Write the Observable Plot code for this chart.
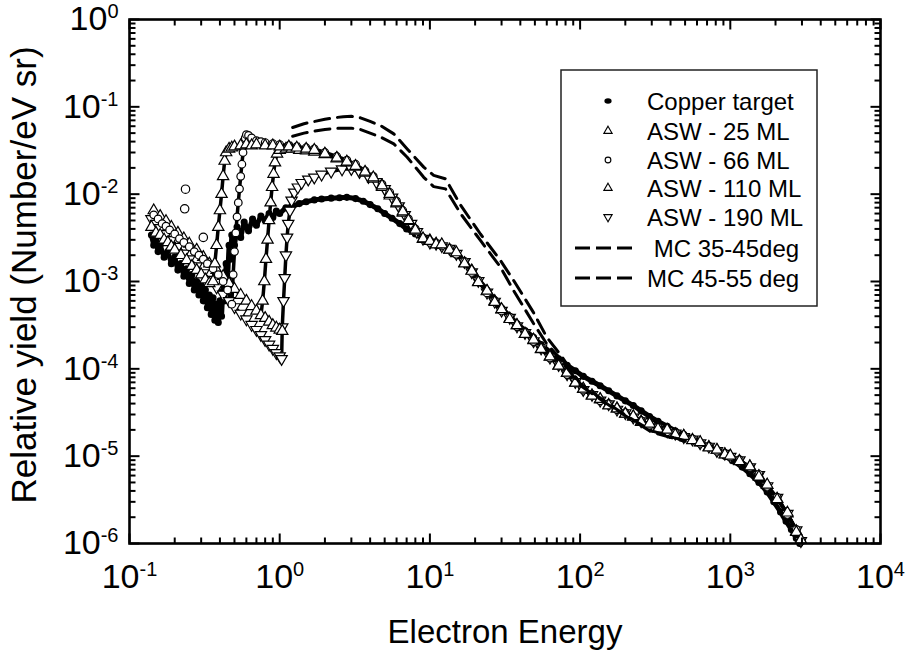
<!DOCTYPE html>
<html><head><meta charset="utf-8">
<script src="https://cdn.jsdelivr.net/npm/d3@7"></script>
<script src="https://cdn.jsdelivr.net/npm/@observablehq/plot@0.6"></script>
<style>
html,body{margin:0;padding:0;background:#fff;}
#chart{position:relative;width:908px;height:660px;overflow:hidden;}
</style></head>
<body><div id="chart"></div>
<script>
// ---------- axis ticks ----------
const xMajor = [0.1, 1, 10, 100, 1000, 10000];
const yMajor = [1e-6, 1e-5, 1e-4, 1e-3, 1e-2, 1e-1, 1];
const minorSteps = [2, 3, 4, 5, 6, 7, 8, 9];
const xTickLabels = ["10^-1", "10^0", "10^1", "10^2", "10^3", "10^4"];
const yTickLabels = ["10^-6", "10^-5", "10^-4", "10^-3", "10^-2", "10^-1", "10^0"];

// ---------- legend ----------
const legendLabels = ["Copper target", "ASW - 25 ML", "ASW - 66 ML", "ASW - 110 ML", "ASW - 190 ML", " MC 35-45deg", "MC 45-55 deg"];

// ---------- shared high-energy grid for ASW series ----------
const bandE = [10, 11, 12, 13.5, 15, 17, 19, 21, 24, 27, 30, 34, 38, 43, 49, 55, 63, 72, 82, 93, 105, 120, 136, 155, 176, 200, 226, 255, 290, 330, 380, 430, 490, 560, 630, 720, 815, 920, 1000, 1150, 1350, 1550, 1760, 2050, 2400, 2750, 2950];

// ---------- Copper target ----------
const cuLowE = [0.14, 0.145, 0.15, 0.155, 0.16, 0.17, 0.18, 0.19, 0.2, 0.21, 0.22, 0.23, 0.24, 0.25, 0.26, 0.27, 0.28, 0.29, 0.30, 0.31, 0.32, 0.33, 0.34, 0.35, 0.36, 0.37, 0.38, 0.39, 0.40, 0.41, 0.42, 0.43, 0.44, 0.45, 0.46, 0.47, 0.48, 0.5, 0.52, 0.55, 0.58, 0.62, 0.66, 0.7, 0.75, 0.8, 0.85, 0.9, 0.95, 1.0, 1.1, 1.2, 1.35, 1.5, 1.7, 1.9, 2.2, 2.5, 2.8, 3.2, 3.6, 4.0, 4.5, 5.0, 5.6, 6.3, 7.0, 8.0, 9.0];
const cuLowY = [3.4e-3, 2.6e-3, 3.0e-3, 2.2e-3, 2.6e-3, 1.9e-3, 2.2e-3, 1.6e-3, 1.9e-3, 1.35e-3, 1.6e-3, 1.15e-3, 1.4e-3, 9.5e-4, 1.2e-3, 8e-4, 1.0e-3, 7e-4, 9e-4, 6e-4, 8e-4, 5e-4, 7e-4, 4.2e-4, 6.5e-4, 3.6e-4, 5.5e-4, 3.4e-4, 6e-4, 4e-4, 9e-4, 6e-4, 1.6e-3, 1.1e-3, 2.6e-3, 1.8e-3, 3.4e-3, 2.6e-3, 4.2e-3, 3.2e-3, 4.8e-3, 3.8e-3, 5.2e-3, 4.4e-3, 5.6e-3, 5.0e-3, 6.0e-3, 5.4e-3, 6.4e-3, 6.0e-3, 7.0e-3, 7.2e-3, 7.8e-3, 8.2e-3, 8.6e-3, 8.8e-3, 9.0e-3, 9.1e-3, 9.2e-3, 8.9e-3, 8.3e-3, 7.6e-3, 6.8e-3, 6.0e-3, 5.3e-3, 4.6e-3, 4.0e-3, 3.5e-3, 3.2e-3];
const cuHighE = [10, 11, 12, 13.5, 15, 17, 19, 21, 24, 27, 30, 34, 38, 43, 49, 55, 63, 72, 82, 93, 105, 120, 136, 155, 176, 200, 226, 255, 290, 330, 380, 430, 490, 560, 630, 720, 815, 920, 1050, 1200, 1350, 1550, 1760, 1950, 2160, 2350, 2550, 2750, 2900];
const cuHighY = [2.9e-3, 2.75e-3, 2.6e-3, 2.4e-3, 2.1e-3, 1.7e-3, 1.35e-3, 1.05e-3, 8e-4, 6.2e-4, 5e-4, 4e-4, 3.3e-4, 2.75e-4, 2.3e-4, 1.9e-4, 1.55e-4, 1.3e-4, 1.1e-4, 9.5e-5, 8.2e-5, 7.2e-5, 6.4e-5, 5.6e-5, 4.9e-5, 4.3e-5, 3.8e-5, 3.3e-5, 2.85e-5, 2.5e-5, 2.2e-5, 1.95e-5, 1.78e-5, 1.6e-5, 1.45e-5, 1.28e-5, 1.14e-5, 1.0e-5, 8.8e-6, 7.5e-6, 6.3e-6, 5.0e-6, 3.9e-6, 3.0e-6, 2.3e-6, 1.8e-6, 1.45e-6, 1.15e-6, 1.0e-6];

// ---------- ASW 25 ML ----------
const asw25LowE = [0.14, 0.15, 0.16, 0.17, 0.18, 0.19, 0.2, 0.22, 0.24, 0.26, 0.28, 0.3, 0.32, 0.34, 0.36, 0.37, 0.38, 0.39, 0.4, 0.41, 0.42, 0.43, 0.44, 0.46, 0.48, 0.5, 0.55, 0.6, 0.65, 0.7, 0.8, 0.9, 1.0, 1.15, 1.3, 1.5, 1.7, 2.0, 2.4, 2.8, 3.2, 3.7, 4.2, 4.8, 5.4, 6.0, 6.6, 7.2, 8.0, 9.0];
const asw25LowY = [4.2e-3, 3.6e-3, 3.4e-3, 3.0e-3, 2.8e-3, 2.5e-3, 2.3e-3, 2.0e-3, 1.75e-3, 1.5e-3, 1.35e-3, 1.2e-3, 1.05e-3, 9.5e-4, 1.0e-3, 1.6e-3, 2.6e-3, 4.2e-3, 6.5e-3, 1.0e-2, 1.6e-2, 2.4e-2, 3.0e-2, 3.3e-2, 3.4e-2, 3.5e-2, 3.6e-2, 3.7e-2, 3.6e-2, 3.7e-2, 3.6e-2, 3.6e-2, 3.5e-2, 3.5e-2, 3.4e-2, 3.3e-2, 3.2e-2, 2.9e-2, 2.6e-2, 2.35e-2, 2.1e-2, 1.8e-2, 1.55e-2, 1.25e-2, 1.0e-2, 8.0e-3, 6.3e-3, 5.0e-3, 3.9e-3, 3.1e-3];
const asw25HighY = [2.9e-3, 2.65e-3, 2.65e-3, 2.3e-3, 2.15e-3, 1.6e-3, 1.32e-3, 9.8e-4, 7.8e-4, 5.8e-4, 4.8e-4, 3.7e-4, 3.15e-4, 2.5e-4, 2.15e-4, 1.68e-4, 1.38e-4, 1.08e-4, 9.0e-5, 6.9e-5, 5.9e-5, 4.9e-5, 4.5e-5, 3.8e-5, 3.5e-5, 3.05e-5, 2.85e-5, 2.45e-5, 2.35e-5, 2.05e-5, 2.0e-5, 1.75e-5, 1.7e-5, 1.52e-5, 1.44e-5, 1.25e-5, 1.18e-5, 1.04e-5, 1.01e-5, 8.7e-6, 7.6e-6, 5.8e-6, 4.7e-6, 3.2e-6, 2.25e-6, 1.35e-6, 1.1e-6];

// ---------- ASW 66 ML ----------
const asw66LowE = [0.145, 0.155, 0.165, 0.175, 0.185, 0.2, 0.215, 0.23, 0.25, 0.27, 0.29, 0.31, 0.33, 0.36, 0.39, 0.42, 0.45, 0.48, 0.49, 0.5, 0.51, 0.52, 0.53, 0.54, 0.55, 0.56, 0.57, 0.58, 0.59, 0.6, 0.62, 0.65, 0.7, 0.75, 0.8, 0.9, 1.0, 1.15, 1.3, 1.5, 1.7, 2.0, 2.4, 2.8, 3.2, 3.7, 4.2, 4.8, 5.4, 6.0, 6.6, 7.2, 8.0, 9.0];
const asw66LowY = [5.8e-3, 5.2e-3, 4.6e-3, 4.3e-3, 3.9e-3, 3.5e-3, 3.1e-3, 2.8e-3, 2.5e-3, 2.2e-3, 2.0e-3, 1.8e-3, 1.6e-3, 1.4e-3, 1.2e-3, 1.0e-3, 8e-4, 5.5e-4, 1.2e-3, 2.2e-3, 3.6e-3, 5.5e-3, 8e-3, 1.15e-2, 1.6e-2, 2.2e-2, 3.0e-2, 3.8e-2, 4.4e-2, 4.8e-2, 4.7e-2, 4.4e-2, 4.1e-2, 4.0e-2, 3.9e-2, 3.8e-2, 3.7e-2, 3.6e-2, 3.5e-2, 3.4e-2, 3.3e-2, 3.0e-2, 2.7e-2, 2.45e-2, 2.2e-2, 1.85e-2, 1.6e-2, 1.3e-2, 1.05e-2, 8.3e-3, 6.5e-3, 5.2e-3, 4.0e-3, 3.15e-3];
const asw66HighY = [2.8e-3, 2.75e-3, 2.55e-3, 2.4e-3, 2.05e-3, 1.7e-3, 1.27e-3, 1.03e-3, 7.4e-4, 6.0e-4, 4.6e-4, 3.9e-4, 3.05e-4, 2.6e-4, 2.05e-4, 1.73e-4, 1.33e-4, 1.12e-4, 8.6e-5, 7.2e-5, 5.7e-5, 5.1e-5, 4.3e-5, 4.0e-5, 3.4e-5, 3.15e-5, 2.75e-5, 2.55e-5, 2.25e-5, 2.15e-5, 1.9e-5, 1.85e-5, 1.65e-5, 1.58e-5, 1.4e-5, 1.3e-5, 1.14e-5, 1.08e-5, 9.8e-6, 9.1e-6, 7.4e-6, 6.2e-6, 4.5e-6, 3.4e-6, 2.15e-6, 1.45e-6, 1.06e-6];
const asw66OutlierE = [0.233, 0.236, 0.31];
const asw66OutlierY = [6.8e-3, 1.14e-2, 3.2e-3];

// ---------- ASW 110 ML ----------
const asw110LowE = [0.145, 0.16, 0.175, 0.19, 0.21, 0.23, 0.25, 0.28, 0.31, 0.34, 0.38, 0.42, 0.46, 0.5, 0.55, 0.6, 0.65, 0.7, 0.75, 0.77, 0.79, 0.81, 0.83, 0.85, 0.87, 0.89, 0.91, 0.93, 0.96, 1.0, 1.1, 1.2, 1.35, 1.5, 1.7, 2.0, 2.4, 2.8, 3.2, 3.7, 4.2, 4.8, 5.4, 6.0, 6.6, 7.2, 8.0, 9.0];
const asw110LowY = [6.5e-3, 5.6e-3, 4.9e-3, 4.2e-3, 3.6e-3, 3.1e-3, 2.7e-3, 2.3e-3, 1.9e-3, 1.6e-3, 1.35e-3, 1.15e-3, 9.5e-4, 8.2e-4, 7e-4, 6e-4, 5.2e-4, 4.6e-4, 4.1e-4, 6e-4, 1.0e-3, 1.8e-3, 3.0e-3, 5.0e-3, 8e-3, 1.2e-2, 1.7e-2, 2.3e-2, 2.9e-2, 3.2e-2, 3.3e-2, 3.3e-2, 3.2e-2, 3.15e-2, 3.05e-2, 2.85e-2, 2.55e-2, 2.3e-2, 2.05e-2, 1.75e-2, 1.5e-2, 1.2e-2, 9.6e-3, 7.8e-3, 6.1e-3, 4.9e-3, 3.8e-3, 3.05e-3];
const asw110HighY = [2.95e-3, 2.7e-3, 2.6e-3, 2.3e-3, 2.1e-3, 1.62e-3, 1.33e-3, 9.9e-4, 7.7e-4, 5.95e-4, 4.75e-4, 3.75e-4, 3.15e-4, 2.5e-4, 2.12e-4, 1.67e-4, 1.37e-4, 1.09e-4, 8.9e-5, 6.9e-5, 5.85e-5, 4.95e-5, 4.45e-5, 3.85e-5, 3.5e-5, 3.05e-5, 2.82e-5, 2.48e-5, 2.32e-5, 2.08e-5, 1.97e-5, 1.78e-5, 1.7e-5, 1.53e-5, 1.43e-5, 1.27e-5, 1.17e-5, 1.05e-5, 1.0e-5, 8.8e-6, 7.6e-6, 5.9e-6, 4.65e-6, 3.25e-6, 2.2e-6, 1.38e-6, 1.09e-6];
const asw110TailE = [0.8, 0.85, 0.9, 0.95, 1.0, 1.04];
const asw110TailY = [3.8e-4, 3.45e-4, 3.15e-4, 2.95e-4, 2.8e-4, 2.7e-4];

// ---------- ASW 190 ML ----------
const asw190LowE = [0.14, 0.15, 0.16, 0.175, 0.19, 0.21, 0.23, 0.25, 0.28, 0.31, 0.34, 0.38, 0.42, 0.46, 0.5, 0.55, 0.6, 0.65, 0.7, 0.75, 0.8, 0.85, 0.9, 0.95, 1.0, 1.03, 1.04, 1.06, 1.08, 1.1, 1.12, 1.14, 1.17, 1.2, 1.25, 1.32, 1.4, 1.55, 1.7, 1.9, 2.2, 2.6, 3.0, 3.4, 3.9, 4.4, 5.0, 5.6, 6.2, 6.8, 7.5, 8.2, 9.0];
const asw190LowY = [5.2e-3, 4.6e-3, 4.1e-3, 3.5e-3, 3.0e-3, 2.5e-3, 2.1e-3, 1.8e-3, 1.5e-3, 1.25e-3, 1.05e-3, 8.6e-4, 7.1e-4, 6.0e-4, 5.1e-4, 4.3e-4, 3.7e-4, 3.2e-4, 2.8e-4, 2.45e-4, 2.15e-4, 1.9e-4, 1.7e-4, 1.52e-4, 1.4e-4, 1.3e-4, 3.0e-4, 6e-4, 1.1e-3, 2.0e-3, 3.2e-3, 4.6e-3, 6.5e-3, 8.5e-3, 1.05e-2, 1.2e-2, 1.35e-2, 1.48e-2, 1.56e-2, 1.68e-2, 1.82e-2, 1.93e-2, 1.95e-2, 1.8e-2, 1.58e-2, 1.38e-2, 1.15e-2, 9.2e-3, 7.3e-3, 5.8e-3, 4.6e-3, 3.7e-3, 3.1e-3];
const asw190HighY = [2.8e-3, 2.72e-3, 2.55e-3, 2.38e-3, 2.08e-3, 1.68e-3, 1.28e-3, 1.02e-3, 7.5e-4, 5.9e-4, 4.65e-4, 3.85e-4, 3.08e-4, 2.58e-4, 2.08e-4, 1.72e-4, 1.35e-4, 1.11e-4, 8.7e-5, 7.1e-5, 5.75e-5, 5.05e-5, 4.35e-5, 3.95e-5, 3.42e-5, 3.12e-5, 2.78e-5, 2.52e-5, 2.28e-5, 2.12e-5, 1.93e-5, 1.82e-5, 1.66e-5, 1.56e-5, 1.41e-5, 1.29e-5, 1.15e-5, 1.07e-5, 9.9e-6, 9.0e-6, 7.5e-6, 6.1e-6, 4.55e-6, 3.35e-6, 2.2e-6, 1.42e-6, 1.07e-6];

// ---------- Monte Carlo ----------
const mcE = [1.22, 1.45, 1.7, 2.0, 2.3, 2.65, 3.0, 3.45, 4.0, 4.7, 5.75, 7.06, 9.1, 10.6, 12.7, 16, 21.7, 29.5, 36.2, 49, 60, 74, 100, 150, 200, 300, 420, 500];
const mc3545Y = [0.058, 0.064, 0.068, 0.072, 0.075, 0.077, 0.078, 0.0748, 0.068, 0.061, 0.049, 0.033, 0.0204, 0.0164, 0.015, 0.0075, 0.0035, 0.00174, 0.00102, 4.4e-4, 2.3e-4, 1.45e-4, 6.8e-5, 4.1e-5, 2.95e-5, 1.95e-5, 1.63e-5, 1.5e-5];
const mc4555Y = [0.046, 0.05, 0.0526, 0.055, 0.0565, 0.057, 0.057, 0.055, 0.05, 0.045, 0.0377, 0.0265, 0.0156, 0.0122, 0.0115, 0.006, 0.00295, 0.00146, 7.8e-4, 3.3e-4, 1.93e-4, 1.3e-4, 6.5e-5, 4.0e-5, 2.9e-5, 1.88e-5, 1.6e-5, 1.48e-5];

// ---------- build tables ----------
const rows = (E, Y) => E.map((e, i) => ({E: e, Y: Y[i]}));
const gap = [{E: null, Y: null}];
const cu = rows(cuLowE, cuLowY).concat(rows(cuHighE, cuHighY));
const a25 = rows(asw25LowE, asw25LowY).concat(rows(bandE, asw25HighY));
const a66 = rows(asw66LowE, asw66LowY).concat(rows(bandE, asw66HighY));
const a66out = rows(asw66OutlierE, asw66OutlierY);
const a110 = rows(asw110LowE, asw110LowY).concat(rows(bandE, asw110HighY), gap, rows(asw110TailE, asw110TailY));
const a190 = rows(asw190LowE, asw190LowY).concat(rows(bandE, asw190HighY));
const mc1 = rows(mcE, mc3545Y);
const mc2 = rows(mcE, mc4555Y);

const xMinor = xMajor.slice(0, -1).flatMap(d => minorSteps.map(k => d * k));
const yMinor = yMajor.slice(0, -1).flatMap(d => minorSteps.map(k => d * k));

const FONT = "'Liberation Sans', Arial, Helvetica, sans-serif";
const TICK_FS = 34;
const tickShape = {draw(ctx, l) { ctx.moveTo(0, 0); ctx.lineTo(0, -l); }};
function tickMarks(data, side, len) {
  const rot = {bottom: 0, top: 180, left: 90, right: -90}[side];
  const ch = (side === "bottom" || side === "top") ? {x: d => d} : {y: d => d};
  return Plot.vector(data, {...ch, frameAnchor: side, length: len, rotate: rot, anchor: "start",
    shape: tickShape, stroke: "black", strokeWidth: 2, strokeLinecap: "butt"});
}
const openDot = (data, opts) => Plot.dot(data, {x: "E", y: "Y", fill: "white", stroke: "black", strokeWidth: 1.2, ...opts});
const band = (data, w) => Plot.line(data, {x: "E", y: "Y", stroke: "black", strokeWidth: w, curve: "linear"});

const plot = Plot.plot({
  width: 908, height: 660,
  marginLeft: 129, marginRight: 28, marginTop: 19, marginBottom: 117,
  style: {fontFamily: FONT, background: "white", color: "black", overflow: "visible"},
  x: {type: "log", domain: [0.1, 1e4]},
  y: {type: "log", domain: [1e-6, 1]},
  marks: [
    // copper target
    band(cu, 5),
    Plot.dot(cu, {x: "E", y: "Y", r: 2.8, fill: "black", stroke: "black"}),
    // ASW lines
    band(a190, 3.5), band(a110, 3.5), band(a66, 3.5), band(a25, 3.5),
    // ASW markers
    openDot(a190, {symbol: "triangle", r: 4.2, rotate: 180}),
    openDot(a110, {symbol: "triangle", r: 4.2}),
    openDot(a66, {symbol: "circle", r: 3.8}),
    openDot(a66out, {symbol: "circle", r: 4.2}),
    openDot(a25, {symbol: "triangle", r: 4.2}),
    // Monte Carlo
    Plot.line(mc1, {x: "E", y: "Y", stroke: "black", strokeWidth: 3, strokeDasharray: "15,8"}),
    Plot.line(mc2, {x: "E", y: "Y", stroke: "black", strokeWidth: 3, strokeDasharray: "15,8"}),
    // frame + ticks
    Plot.frame({stroke: "black", strokeWidth: 2.6}),
    tickMarks(xMajor, "bottom", 10), tickMarks(xMinor, "bottom", 6),
    tickMarks(xMajor, "top", 10), tickMarks(xMinor, "top", 6),
    tickMarks(yMajor, "left", 10), tickMarks(yMinor, "left", 6),
    tickMarks(yMajor, "right", 10), tickMarks(yMinor, "right", 6),
    Plot.axisX({ticks: xMajor, tickSize: 0, tickPadding: 20, fontSize: TICK_FS, label: null,
      tickFormat: d => xTickLabels[xMajor.indexOf(d)]}),
    Plot.axisY({ticks: yMajor, tickSize: 0, tickPadding: 11, fontSize: TICK_FS, label: null,
      tickFormat: d => yTickLabels[yMajor.indexOf(d)]})
  ]
});

const svg = d3.select(plot);
// tick label size + superscript exponents
svg.selectAll('g[aria-label="x-axis tick label"], g[aria-label="y-axis tick label"]')
  .attr("font-size", TICK_FS).style("font-size", TICK_FS + "px");
svg.selectAll('g[aria-label="x-axis tick label"] text, g[aria-label="y-axis tick label"] text').each(function () {
  const m = (this.textContent || "").match(/^10\^(.+)$/);
  if (!m) return;
  this.textContent = "";
  const t = d3.select(this).style("font-size", TICK_FS + "px");
  t.append("tspan").text("10");
  t.append("tspan").attr("dy", "-0.6em").style("font-size", "20px").text(m[1]);
});

// axis titles
svg.append("text").attr("x", 505).attr("y", 643).attr("text-anchor", "middle")
  .attr("font-family", FONT).attr("font-size", 33).attr("fill", "black").text("Electron Energy");
svg.append("text").attr("transform", "translate(36,275) rotate(-90)").attr("text-anchor", "middle")
  .attr("font-family", FONT).attr("font-size", 35).attr("fill", "black").text("Relative yield (Number/eV sr)");

// legend
const lg = svg.append("g").attr("font-family", FONT).attr("font-size", 24).attr("text-anchor", "start");
lg.append("rect").attr("x", 561).attr("y", 70).attr("width", 256).attr("height", 236)
  .attr("fill", "white").attr("stroke", "#222").attr("stroke-width", 1.5);
const rowY = [101, 131, 160, 188, 217, 248, 278];
const kinds = ["cu", "tri", "circ", "tri", "tridown", "dash", "dash"];
legendLabels.forEach((lab, i) => {
  const y = rowY[i], k = kinds[i], sx = 608;
  if (k === "cu") lg.append("ellipse").attr("cx", sx).attr("cy", y).attr("rx", 3.6).attr("ry", 2.8).attr("fill", "black");
  else if (k === "dash") lg.append("line").attr("x1", 575).attr("x2", 632).attr("y1", y).attr("y2", y)
    .attr("stroke", "black").attr("stroke-width", 3).attr("stroke-dasharray", "15,6");
  else {
    const sym = k === "circ" ? d3.symbolCircle : d3.symbolTriangle;
    lg.append("path").attr("d", d3.symbol(sym, k === "circ" ? 26 : 30)())
      .attr("transform", `translate(${sx},${y})${k === "tridown" ? " rotate(180)" : ""}`)
      .attr("fill", "white").attr("stroke", "black").attr("stroke-width", 1.1);
  }
  lg.append("text").attr("x", 647).attr("y", y + 8.5).attr("fill", "black").attr("text-anchor", "start")
    .style("white-space", "pre").text(lab);
});

document.getElementById("chart").append(plot);
</script>
</body></html>
